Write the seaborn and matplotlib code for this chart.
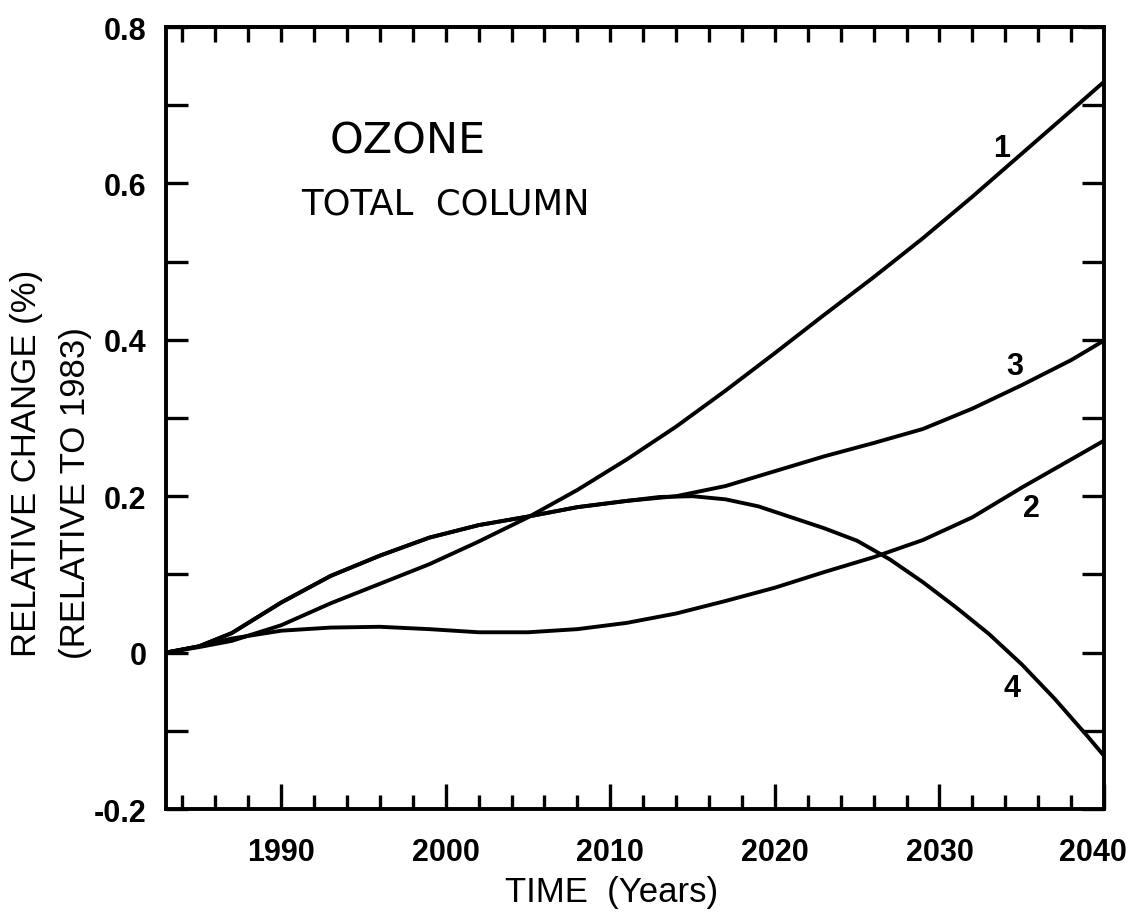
import matplotlib
matplotlib.use('Agg')
import matplotlib.pyplot as plt
import matplotlib.transforms as mtransforms
import seaborn as sns
import pandas as pd
from matplotlib.ticker import FixedLocator

# curve values (relative change, %)
years_1 = [1983, 1985, 1987, 1990, 1993, 1996, 1999, 2002, 2005, 2008, 2011,
           2014, 2017, 2020, 2023, 2026, 2029, 2032, 2035, 2038, 2040]
vals_1 = [0.0, 0.007, 0.015, 0.035, 0.063, 0.088, 0.113, 0.142, 0.173, 0.208, 0.247,
          0.289, 0.335, 0.383, 0.432, 0.480, 0.530, 0.583, 0.638, 0.693, 0.730]

years_2 = [1983, 1985, 1987, 1990, 1993, 1996, 1999, 2002, 2005, 2008, 2011,
           2014, 2017, 2020, 2023, 2026, 2029, 2032, 2035, 2038, 2040]
vals_2 = [0.0, 0.008, 0.018, 0.028, 0.032, 0.033, 0.030, 0.026, 0.026, 0.030, 0.038,
          0.050, 0.066, 0.083, 0.103, 0.122, 0.144, 0.173, 0.211, 0.247, 0.271]

years_3 = [1983, 1985, 1987, 1990, 1993, 1996, 1999, 2002, 2005, 2008, 2011,
           2014, 2017, 2020, 2023, 2026, 2029, 2032, 2035, 2038, 2040]
vals_3 = [0.0, 0.008, 0.025, 0.064, 0.098, 0.124, 0.147, 0.163, 0.174, 0.186, 0.194,
          0.200, 0.213, 0.232, 0.251, 0.268, 0.286, 0.312, 0.342, 0.374, 0.399]

years_4 = [1983, 1985, 1987, 1990, 1993, 1996, 1999, 2002, 2005, 2008, 2011,
           2013, 2015, 2017, 2019, 2021, 2023, 2025, 2027, 2029, 2031, 2033,
           2035, 2037, 2039, 2040]
vals_4 = [0.0, 0.008, 0.025, 0.064, 0.098, 0.124, 0.147, 0.163, 0.174, 0.186, 0.194,
          0.199, 0.200, 0.196, 0.187, 0.173, 0.159, 0.143, 0.119, 0.090, 0.058, 0.024,
          -0.015, -0.059, -0.107, -0.132]

curve_labels = ['1', '2', '3', '4']
label_x = [2033.8, 2035.6, 2034.6, 2034.4]
label_y = [0.645, 0.185, 0.367, -0.045]

ytick_vals = [-0.2, 0, 0.2, 0.4, 0.6, 0.8]
ytick_text = ['-0.2', '0', '0.2', '0.4', '0.6', '0.8']
xtick_vals = [1990, 2000, 2010, 2020, 2030, 2040]

sns.set_style('ticks')
plt.rcParams['font.family'] = ['Liberation Sans', 'DejaVu Sans']
plt.rcParams['text.color'] = 'black'
plt.rcParams['xtick.color'] = 'black'
plt.rcParams['ytick.color'] = 'black'

fig = plt.figure(figsize=(11.36, 9.2), dpi=100)
W, H = 1136, 920
ax = fig.add_axes([166 / W, 1 - 810 / H, (1104 - 166) / W, (810 - 28) / H])

series = [(years_1, vals_1), (years_2, vals_2), (years_3, vals_3), (years_4, vals_4)]
for yrs, vals in series:
    df = pd.DataFrame({'year': yrs, 'change': vals})
    sns.lineplot(data=df, x='year', y='change', color='black', lw=2.8,
                 estimator=None, sort=False, ax=ax)

ax.set_xlim(1983, 2040)
ax.set_ylim(-0.2, 0.8)
ax.set_xlabel('')
ax.set_ylabel('')

for side in ax.spines.values():
    side.set_linewidth(2.8)
    side.set_color('black')

# bottom axis: long ticks every 10 yr, short every 2 yr
ax.xaxis.set_major_locator(FixedLocator(xtick_vals))
ax.xaxis.set_minor_locator(FixedLocator(list(range(1984, 2040, 2))))
ax.set_xticklabels([str(v) for v in xtick_vals])
ax.tick_params(axis='x', which='major', direction='in', length=18, width=2.4,
               pad=20, labelsize=22, top=False)
ax.tick_params(axis='x', which='minor', direction='in', length=10, width=2.4, top=False)
for lab in ax.get_xticklabels():
    lab.set_fontweight('bold')
# last year label sits a bit inside the right edge, as in the original
last = ax.get_xticklabels()[-1]
last.set_transform(last.get_transform() +
                   mtransforms.ScaledTranslation(-8 / 72, 0, fig.dpi_scale_trans))

# top axis: uniform short ticks
top = ax.secondary_xaxis('top')
top.set_xticks(list(range(1984, 2040, 2)))
top.tick_params(direction='in', length=11, width=2.4, labeltop=False)
top.spines['top'].set_linewidth(2.8)

# y axis ticks every 0.1 on both sides, labels every 0.2
ax.yaxis.set_major_locator(FixedLocator(ytick_vals))
ax.yaxis.set_minor_locator(FixedLocator([-0.1, 0.1, 0.3, 0.5, 0.7]))
ax.set_yticklabels(ytick_text)
ax.tick_params(axis='y', which='both', direction='in', length=16, width=2.4,
               right=True, pad=14, labelsize=22)
for lab in ax.get_yticklabels():
    lab.set_fontweight('bold')

for txt, lx, ly in zip(curve_labels, label_x, label_y):
    ax.text(lx, ly, txt, fontsize=22, fontweight='bold', ha='center', va='center')

ax.text(1997.7, 0.655, 'OZONE', fontsize=31, family='DejaVu Sans',
        ha='center', va='center')
ax.text(2000.0, 0.574, 'TOTAL  COLUMN', fontsize=25.5, family='DejaVu Sans',
        ha='center', va='center')

fig.text(27 / W, 1 - 463 / H, 'RELATIVE CHANGE (%)', rotation=90,
         fontsize=25, ha='center', va='center')
fig.text(76 / W, 1 - 493 / H, '(RELATIVE TO 1983)', rotation=90,
         fontsize=25, ha='center', va='center')
fig.text(612 / W, 1 - 893 / H, 'TIME  (Years)', fontsize=25,
         ha='center', va='center')

fig.savefig('out.png', dpi=100)
